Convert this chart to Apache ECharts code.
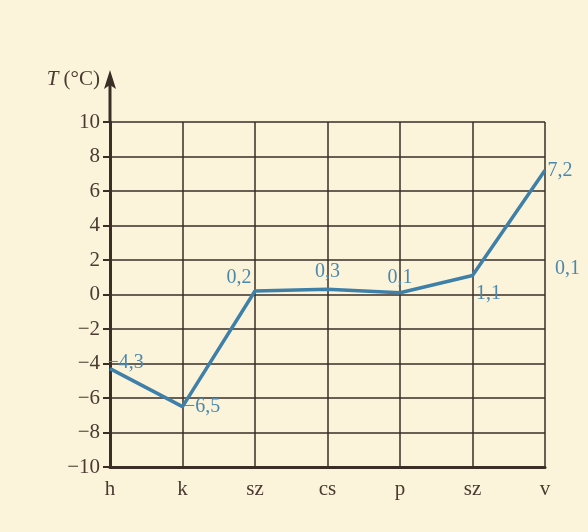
<!DOCTYPE html>
<html><head><meta charset="utf-8">
<script src="https://cdn.jsdelivr.net/npm/echarts@6/dist/echarts.min.js"></script>
<style>html,body{margin:0;padding:0;background:#fbf4da;}#c{width:588px;height:532px;}</style>
</head><body><div id="c"></div>
<script>
var categories = ['h', 'k', 'sz', 'cs', 'p', 'sz', 'v'];
var temps = [-4.3, -6.5, 0.2, 0.3, 0.1, 1.1, 7.2];
var extraLabel = '0,1';
var yMin = -10, yMax = 10, yStep = 2;

var labelPos = [
  {position: 'right', offset: [-8, -6]},
  {position: 'right', offset: [-4, 0]},
  {position: 'left', offset: [2, -13]},
  {position: 'top', offset: [0, -2]},
  {position: 'top', offset: [0, 0]},
  {position: 'right', offset: [-2, 18]},
  {position: 'right', offset: [-3, 0]}
];
var fmt = function (v) { return String(v).replace('.', ',').replace('-', '\u2212'); };
var dataItems = temps.map(function (v, i) {
  return {value: v, label: {position: labelPos[i].position, offset: labelPos[i].offset.slice()}};
});

var ink = '#3a2e27';
var textInk = '#4a3b31';
var serif = 'Liberation Serif';
var chart = echarts.init(document.getElementById('c'));
chart.setOption({
  backgroundColor: '#fbf4da',
  animation: false,
  grid: {left: 110, right: 43, top: 122, bottom: 65},
  xAxis: {
    type: 'category', data: categories, boundaryGap: false,
    axisLine: {onZero: false, lineStyle: {color: ink, width: 3}},
    axisTick: {show: false},
    axisLabel: {color: textInk, fontFamily: serif, fontSize: 21, margin: 12},
    splitLine: {show: true, lineStyle: {color: ink, width: 1.5}}
  },
  yAxis: {
    type: 'value', min: yMin, max: yMax, interval: yStep,
    axisLine: {show: true, lineStyle: {color: ink, width: 3}},
    axisTick: {show: true, length: 7, lineStyle: {color: ink, width: 2}},
    axisLabel: {color: textInk, fontFamily: serif, fontSize: 21, margin: 10,
      formatter: function (v) { return String(v).replace('-', '\u2212'); }},
    splitLine: {show: true, lineStyle: {color: ink, width: 1.5}}
  },
  series: [{
    type: 'line', data: dataItems, symbol: 'circle', symbolSize: 1, showSymbol: true,
    itemStyle: {color: 'rgba(0,0,0,0)', borderWidth: 0},
    lineStyle: {color: '#3f80a8', width: 3.5},
    label: {show: true, color: '#4c88ad', fontFamily: serif, fontSize: 20,
      formatter: function (p) { return fmt(p.value); }}
  }]
});

var axisTopY = chart.convertToPixel({yAxisIndex: 0}, yMax);
var axisX = chart.convertToPixel({xAxisIndex: 0}, 0);
var lastX = chart.convertToPixel({xAxisIndex: 0}, categories.length - 1);
var extraY = chart.convertToPixel({yAxisIndex: 0}, 1.5);
chart.setOption({
  graphic: [
    {type: 'line', shape: {x1: axisX, y1: axisTopY, x2: axisX, y2: axisTopY - 40}, style: {stroke: ink, lineWidth: 3}},
    {type: 'polygon', shape: {points: [[axisX, axisTopY - 52], [axisX - 6, axisTopY - 33], [axisX, axisTopY - 37], [axisX + 6, axisTopY - 33]]}, style: {fill: ink}},
    {type: 'text', x: axisX - 10, y: axisTopY - 43, style: {
      text: '{i|T}{n| (°C)}', align: 'right', verticalAlign: 'middle',
      rich: {i: {fontFamily: serif, fontStyle: 'italic', fontSize: 21, fill: textInk},
             n: {fontFamily: serif, fontSize: 21, fill: textInk}}}},
    {type: 'text', x: lastX + 10, y: extraY, style: {
      text: extraLabel, fontFamily: serif, fontSize: 20, fill: '#4c88ad', verticalAlign: 'middle'}}
  ]
});
</script></body></html>
